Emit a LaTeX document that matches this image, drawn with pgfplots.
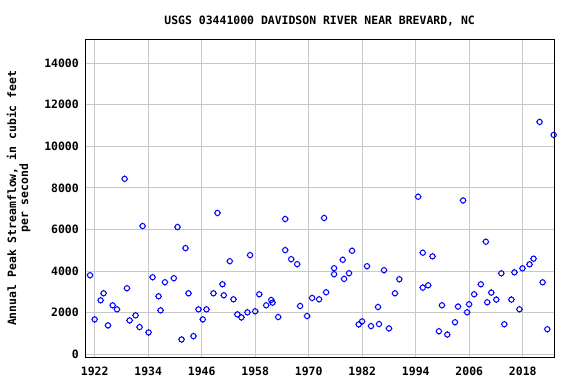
\documentclass[border=0pt]{standalone}
\usepackage{pgfplots}
\pgfplotsset{compat=1.18}
\usepackage{fontspec}
\setmainfont{DejaVu Sans Mono}
\setmonofont{DejaVu Sans Mono}
\definecolor{gridgray}{RGB}{200,200,200}
\pgfdeclareplotmark{usgs}{%
  \pgfpathcircle{\pgfpointorigin}{\pgfplotmarksize}%
  \pgfpathmoveto{\pgfpoint{0pt}{\pgfplotmarksize}}\pgfpathlineto{\pgfpoint{0pt}{1.3\pgfplotmarksize}}%
  \pgfpathmoveto{\pgfpoint{0pt}{-\pgfplotmarksize}}\pgfpathlineto{\pgfpoint{0pt}{-1.3\pgfplotmarksize}}%
  \pgfpathmoveto{\pgfpoint{\pgfplotmarksize}{0pt}}\pgfpathlineto{\pgfpoint{1.3\pgfplotmarksize}{0pt}}%
  \pgfpathmoveto{\pgfpoint{-\pgfplotmarksize}{0pt}}\pgfpathlineto{\pgfpoint{-1.3\pgfplotmarksize}{0pt}}%
  \pgfusepathqstroke}
\begin{document}
\begin{tikzpicture}
\useasboundingbox (0,0) rectangle (576bp,384bp);
\begin{axis}[
  at={(85.3bp,26.7bp)}, anchor=south west,
  scale only axis, width=468.7bp, height=318bp,
  xmin=1919.9, xmax=2025, ymin=-150, ymax=15150,
  xtick={1922,1934,...,2018}, ytick={0,2000,...,14000},
  scaled y ticks=false, scaled x ticks=false,
  grid=major,
  grid style={color=gridgray, line width=1bp},
  major tick length=2bp,
  tick style={color=gridgray, line width=1bp},
  axis line style={black, line width=1bp},
  tick label style={font=\fontsize{11.5}{12}\selectfont\bfseries},
  /pgf/number format/assume math mode=true,
  /pgf/number format/1000 sep={},
  /pgf/number format/fixed,
  xticklabel style={yshift=-6bp},
  yticklabel style={xshift=-3bp},
  title={USGS 03441000 DAVIDSON RIVER NEAR BREVARD, NC},
  title style={font=\fontsize{11.5}{12}\selectfont\bfseries, yshift=4bp},
  ylabel={Annual Peak Streamflow, in cubic feet\\per second},
  ylabel style={font=\fontsize{11.5}{12}\selectfont\bfseries, align=center, yshift=7bp},
]
\addplot[only marks, mark=usgs, mark size=2.6bp, blue, line width=1bp] coordinates {
(1920.96,3800) (1922.0,1674) (1923.34,2592) (1924.0,2930) (1924.99,1385)
(1926.03,2351) (1927.0,2157) (1928.72,8436) (1929.24,3172) (1929.84,1626)
(1931.18,1868) (1932.07,1304) (1932.75,6166) (1934.09,1047) (1934.99,3703)
(1936.33,2785) (1936.78,2109) (1937.75,3462) (1939.76,3655) (1940.58,6118)
(1941.48,708) (1942.37,5104) (1943.04,2930) (1944.16,869) (1945.28,2157)
(1946.25,1674) (1947.07,2157) (1948.64,2930) (1949.54,6794) (1950.66,3365)
(1950.96,2834) (1952.3,4476) (1953.12,2640) (1954.0,1916) (1954.9,1771)
(1956.25,2013) (1956.85,4766) (1958.0,2061) (1958.9,2882) (1960.46,2351)
(1961.58,2608) (1961.88,2479) (1963.15,1787) (1964.72,6504) (1964.72,5007)
(1966.06,4572) (1967.4,4331) (1968.07,2318) (1969.64,1835) (1970.76,2705)
(1972.33,2640) (1973.45,6553) (1973.9,2979) (1975.69,4138) (1975.69,3848)
(1977.63,4540) (1977.93,3623) (1979.04,3896) (1979.72,4975) (1981.21,1433)
(1981.96,1578) (1983.07,4234) (1983.97,1352) (1985.54,2270) (1985.76,1449)
(1986.88,4041) (1988.0,1240) (1989.34,2930) (1990.31,3606) (1994.53,7573)
(1995.58,4883) (1995.58,3202) (1996.78,3314) (1997.76,4707) (1999.19,1105)
(1999.87,2353) (2001.07,945) (2002.8,1537) (2003.48,2289) (2004.61,7397)
(2005.51,2017) (2005.96,2402) (2007.09,2882) (2008.6,3362) (2009.72,5411)
(2010.02,2498) (2010.93,2962) (2012.05,2626) (2013.18,3890) (2013.86,1441)
(2015.44,2626) (2016.12,3938) (2017.25,2161) (2017.93,4131) (2019.51,4323)
(2020.41,4595) (2021.77,11175) (2022.45,3458) (2023.5,1201) (2024.93,10551)
};
\end{axis}
\end{tikzpicture}
\end{document}
